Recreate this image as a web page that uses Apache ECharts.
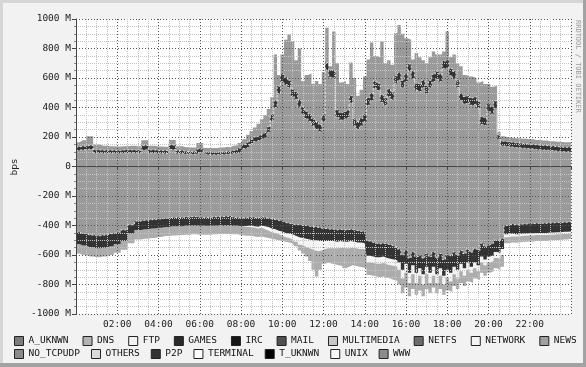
<!DOCTYPE html>
<html><head><meta charset="utf-8">
<script src="https://cdn.jsdelivr.net/npm/echarts@6/dist/echarts.min.js"></script>
<style>html,body{margin:0;padding:0;background:#f2f2f2}#c{width:586px;height:367px}</style>
</head><body><div id="c"></div>
<script>
// time of day in minutes
const minutes = [0,20,40,60,80,100,120,140,160,180,200,220,240,260,280,300,320,340,360,380,400,420,440,460,480,
490,500,510,520,530,540,550,560,570,580,590,600,610,620,630,640,650,660,670,680,690,700,710,720,730,740,750,760,770,780,790,800,
810,820,830,840,850,860,870,880,890,900,910,920,930,940,950,960,970,980,990,1000,1010,1020,1030,1040,1050,1060,1070,1080,1090,1100,
1110,1120,1130,1140,1150,1160,1170,1180,1190,1200,1210,1220,1230,1240,1250,1260,
1280,1300,1320,1340,1360,1380,1400,1420,1440];

// inbound (positive) stack levels, M bps
const inTotal = [165,178,205,150,140,138,135,138,140,138,178,140,135,134,180,138,130,128,160,125,125,128,132,142,160,
185,215,240,265,290,320,350,390,470,760,620,760,860,895,850,720,800,580,620,630,560,580,560,640,940,680,915,700,570,580,560,705,
600,480,520,610,725,840,750,740,850,700,720,690,905,960,900,870,860,725,770,740,720,700,740,780,760,760,780,915,740,760,
700,680,620,610,610,600,570,580,560,560,540,550,235,205,200,195,
192,188,185,180,176,172,168,165,165];
const inBandTop = [132,138,142,112,110,110,108,112,112,110,142,112,108,108,145,108,102,100,118,98,96,98,102,110,125,
150,165,185,200,210,222,235,270,355,445,545,625,605,585,525,505,455,405,375,355,325,305,285,355,705,655,645,385,365,375,385,480,
325,305,325,355,465,495,580,565,485,465,525,505,615,635,585,625,695,645,565,555,585,545,585,625,645,625,715,725,665,645,
585,495,475,485,465,475,445,335,325,425,405,445,215,172,168,165,
160,155,150,146,142,138,134,130,130];
const inBandBottom = [110,114,118,92,90,91,90,92,93,92,112,92,90,88,115,88,85,84,95,82,80,82,84,90,100,
122,135,155,170,180,190,200,232,310,400,495,575,555,535,475,455,405,355,325,305,275,255,235,305,655,605,595,335,315,325,335,430,
275,255,275,305,415,445,530,515,435,415,475,455,565,585,535,575,645,595,515,505,535,495,535,575,595,575,665,675,615,595,
535,445,425,435,415,425,395,285,275,375,355,395,185,140,135,132,
128,124,120,116,112,108,104,100,100];

// outbound (negative) stack levels, M bps
const outMain = [-445,-455,-465,-470,-465,-455,-445,-430,-395,-370,-365,-360,-355,-350,-345,-345,-342,-340,-345,-345,-342,-340,-338,-345,-350,
-348,-345,-342,-345,-350,-340,-345,-350,-355,-360,-365,-370,-380,-385,-390,-395,-395,-400,-400,-405,-410,-410,-415,-420,-420,-425,-425,-430,-425,-430,-430,-425,
-430,-435,-440,-440,-505,-515,-520,-525,-520,-525,-530,-540,-545,-560,-600,-570,-620,-580,-610,-600,-620,-590,-610,-580,-620,-590,-630,-600,-610,-580,
-600,-570,-590,-560,-580,-560,-570,-520,-540,-530,-520,-500,-505,-490,-400,-390,
-395,-390,-388,-385,-385,-382,-380,-378,-375];
const outBand = [-525,-535,-548,-555,-550,-540,-525,-505,-455,-430,-425,-420,-415,-410,-405,-405,-400,-398,-400,-402,-400,-398,-396,-400,-405,
-405,-402,-400,-405,-408,-400,-405,-410,-420,-425,-435,-440,-450,-455,-460,-470,-480,-485,-490,-495,-500,-500,-505,-505,-505,-505,-505,-510,-505,-510,-510,-505,
-510,-515,-515,-520,-605,-610,-615,-615,-610,-620,-625,-630,-635,-650,-700,-660,-720,-670,-720,-690,-730,-680,-720,-680,-730,-690,-740,-700,-720,-680,
-700,-660,-690,-650,-680,-650,-670,-610,-630,-610,-600,-580,-585,-560,-460,-455,
-460,-455,-452,-450,-450,-448,-445,-442,-440];
const outWhite = [-525,-535,-548,-555,-550,-540,-525,-505,-455,-430,-425,-420,-415,-410,-405,-405,-400,-398,-400,-402,-400,-398,-396,-400,-410,
-410,-410,-410,-415,-420,-415,-425,-435,-445,-450,-460,-470,-480,-485,-495,-510,-530,-540,-550,-560,-570,-575,-570,-560,-555,-555,-555,-555,-550,-555,-555,-550,
-555,-560,-560,-565,-650,-655,-660,-660,-655,-665,-670,-675,-680,-700,-760,-720,-790,-730,-790,-740,-800,-730,-790,-740,-790,-740,-800,-750,-780,-730,
-760,-710,-740,-700,-720,-690,-710,-650,-670,-650,-640,-620,-625,-600,-480,-475,
-475,-470,-468,-465,-465,-462,-460,-458,-455];
const outTotal = [-590,-600,-610,-615,-610,-600,-585,-565,-520,-495,-490,-485,-478,-472,-468,-465,-462,-460,-462,-462,-460,-458,-458,-460,-465,
-468,-470,-470,-475,-478,-475,-480,-485,-490,-495,-500,-505,-510,-515,-520,-540,-570,-590,-610,-640,-700,-745,-700,-660,-650,-660,-665,-670,-675,-690,-680,-670,
-675,-680,-685,-690,-735,-740,-745,-750,-745,-755,-760,-770,-775,-800,-860,-820,-880,-830,-870,-840,-880,-830,-860,-820,-860,-830,-870,-840,-850,-810,
-830,-790,-810,-780,-790,-760,-770,-720,-740,-720,-710,-690,-700,-680,-520,-515,
-515,-510,-508,-505,-505,-500,-498,-495,-490];

const legendRow1 = [['A_UKNWN','#7c7c7c'],['DNS','#b4b4b4'],['FTP','#f2f2f2'],['GAMES','#2a2a2a'],['IRC','#161616'],['MAIL','#505050'],
  ['MULTIMEDIA','#c8c8c8'],['NETFS','#6c6c6c'],['NETWORK','#f4f4f4'],['NEWS','#a0a0a0']];
const legendRow2 = [['NO_TCPUDP','#8a8a8a'],['OTHERS','#dadada'],['P2P','#343434'],['TERMINAL','#ffffff'],['T_UKNWN','#000000'],
  ['UNIX','#f8f8f8'],['WWW','#8c8c8c']];

const FONT = 'DejaVu Sans Mono';
const pts = arr => minutes.map((m,i)=>[m,arr[i]]);
const C_MAIN = '#9a9a9a', C_DARK = '#333333', C_LIGHT = '#acacac';

function area(name, arr, color, lineColor){
  return {type:'line', name, data:pts(arr), symbol:'none', step:'middle', silent:true,
    lineStyle: lineColor ? {color:lineColor, width:1, type:[2,2]} : {width:0},
    areaStyle:{color, opacity:1}, itemStyle:{color}};
}
const series = [
  area('WWW', inTotal, C_MAIN),
  area('P2P', inBandTop, C_DARK, '#e6e6e6'),
  area('WWW', inBandBottom, C_MAIN, '#d8d8d8'),
  area('NEWS', outTotal, C_LIGHT),
  area('TERMINAL', outWhite, '#f4f4f4'),
  area('P2P', outBand, C_DARK),
  area('WWW', outMain, C_MAIN, '#e6e6e6'),
];
const used = new Set(series.map(s=>s.name));
legendRow1.concat(legendRow2).forEach(([n,c])=>{ if(!used.has(n)) series.push({type:'line', name:n, data:[], itemStyle:{color:c}}); });

function legend(rows, top, gap){
  return {left:14, top, padding:0, itemGap:gap, itemWidth:9, itemHeight:9, selectedMode:false, icon:'rect',
    textStyle:{fontFamily:FONT, fontSize:9.5, color:'#111', padding:[1,0,0,0]},
    data: rows.map(([n,c])=>({name:n, icon:'rect', itemStyle:{color:c, borderColor:'#222', borderWidth:1}}))};
}
const pad = n => (n<10?'0':'')+n;

const chart = echarts.init(document.getElementById('c'), null, {renderer:'canvas'});
chart.setOption({
  backgroundColor:'#f2f2f2',
  animation:false,
  grid:{left:76, right:15, top:19, bottom:53, show:true, backgroundColor:'#ffffff', borderWidth:0},
  legend:[legend(legendRow1, 336, 14), legend(legendRow2, 349, 11)],
  xAxis:{type:'value', min:0, max:1440, interval:120, z:5,
    axisLine:{show:true, lineStyle:{color:'#444', width:1}},
    axisTick:{show:true, length:3, lineStyle:{color:'#444'}},
    minorTick:{show:true, splitNumber:4, length:2, lineStyle:{color:'#888'}},
    splitLine:{show:true, lineStyle:{color:'#555', type:[1,2], width:1}},
    minorSplitLine:{show:true, lineStyle:{color:'#c4c4c4', type:[1,1], width:1}},
    axisLabel:{fontFamily:FONT, fontSize:9.5, color:'#222', margin:6,
      formatter:v=> (v===0||v===1440)?'':pad(v/60)+':00'}},
  yAxis:{type:'value', min:-1000, max:1000, interval:200, z:5,
    axisLine:{show:true, lineStyle:{color:'#444', width:1}},
    axisTick:{show:true, length:4, lineStyle:{color:'#444'}},
    minorTick:{show:true, splitNumber:4, length:2, lineStyle:{color:'#888'}},
    splitLine:{show:true, lineStyle:{color:'#555', type:[1,2], width:1}},
    minorSplitLine:{show:true, lineStyle:{color:'#c4c4c4', type:[1,1], width:1}},
    axisLabel:{fontFamily:FONT, fontSize:9.5, color:'#222', margin:5,
      formatter:v=> v===0?'0':v+' M'}},
  graphic:[
    {type:'rect', left:0, top:0, shape:{width:586, height:3}, style:{fill:'#d6d6d6'}, silent:true},
    {type:'rect', left:0, top:0, shape:{width:3, height:367}, style:{fill:'#d6d6d6'}, silent:true},
    {type:'rect', left:0, top:363, shape:{width:586, height:4}, style:{fill:'#a2a2a2'}, silent:true},
    {type:'rect', left:583, top:0, shape:{width:3, height:367}, style:{fill:'#a2a2a2'}, silent:true},
    {type:'text', x:15, y:167, rotation:Math.PI/2, silent:true,
      style:{text:'bps', fontFamily:FONT, fontSize:9.5, fill:'#222', textAlign:'center', textVerticalAlign:'middle'}},
    {type:'text', x:578, y:20, rotation:-Math.PI/2, silent:true,
      style:{text:'RRDTOOL / TOBI OETIKER', fontFamily:FONT, fontSize:7, fill:'#9a9a9a', textAlign:'left', textVerticalAlign:'middle'}}
  ],
  series
});
</script></body></html>
